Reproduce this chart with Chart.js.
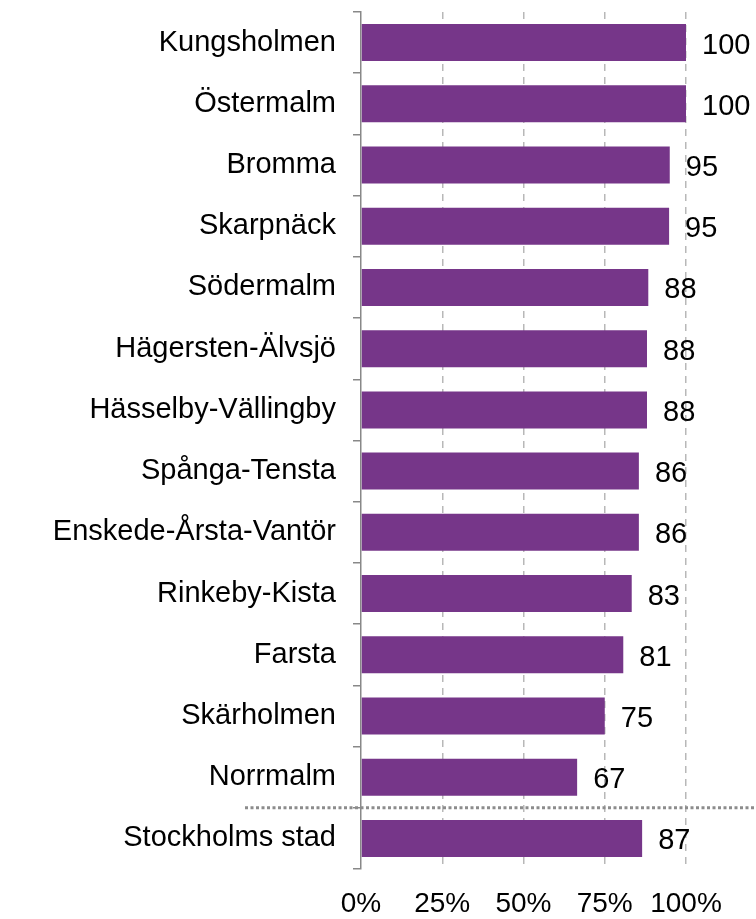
<!DOCTYPE html>
<html>
<head>
<meta charset="utf-8">
<script src="https://cdn.jsdelivr.net/npm/chart.js@4/dist/chart.umd.min.js"></script>
<style>
  html, body { margin:0; padding:0; background:#fff; }
  #wrap { width:756px; height:919px; }
</style>
</head>
<body>
<div id="wrap"><canvas id="districtChart" width="756" height="919"></canvas></div>
<script>
  const districts = ['Kungsholmen','Östermalm','Bromma','Skarpnäck','Södermalm','Hägersten-Älvsjö','Hässelby-Vällingby','Spånga-Tensta','Enskede-Årsta-Vantör','Rinkeby-Kista','Farsta','Skärholmen','Norrmalm','Stockholms stad'];
  const shares = [100,100,95,94.8,88.4,88,88,85.5,85.5,83.3,80.7,75,66.5,86.5];
  const xTicks = [0,25,50,75,100];

  const font = 'Liberation Sans, Arial, sans-serif';

  // value labels to the right of each bar
  const valueLabels = {
    id:'valueLabels',
    afterDatasetsDraw(chart) {
      const ctx = chart.ctx;
      const meta = chart.getDatasetMeta(0);
      ctx.save();
      ctx.font = '29px ' + font;
      ctx.fillStyle = '#000';
      ctx.textAlign = 'left';
      ctx.textBaseline = 'middle';
      meta.data.forEach((bar, i) => {
        ctx.fillText(Math.round(shares[i]), bar.x + 16, bar.y + 3);
      });
      ctx.restore();
    }
  };

  // dotted separator above the city total
  const separator = {
    id:'separator',
    afterDraw(chart) {
      const y = chart.scales.y;
      const n = districts.length;
      const yy = (y.getPixelForValue(n - 2) + y.getPixelForValue(n - 1)) / 2;
      const ctx = chart.ctx;
      ctx.save();
      ctx.strokeStyle = '#8c8c8c';
      ctx.lineWidth = 3;
      ctx.setLineDash([3,2.5]);
      ctx.beginPath();
      ctx.moveTo(245, yy);
      ctx.lineTo(chart.width, yy);
      ctx.stroke();
      ctx.restore();
    }
  };

  new Chart(document.getElementById('districtChart').getContext('2d'), {
    type:'bar',
    data:{
      labels:districts,
      datasets:[{ data:shares, backgroundColor:'#763689', barPercentage:0.605, categoryPercentage:1 }]
    },
    options:{
      indexAxis:'y',
      responsive:false,
      animation:false,
      layout:{ padding:{ top:12, right:70, left:0, bottom:0 } },
      plugins:{ legend:{display:false}, tooltip:{enabled:false} },
      scales:{
        x:{
          min:0, max:100,
          afterBuildTicks: s => { s.ticks = xTicks.map(v => ({value:v})); },
          border:{ display:false, dash:[7,6] },
          grid:{ drawTicks:false, lineWidth:1.5, color: c => c.tick && c.tick.value === 0 ? 'rgba(0,0,0,0)' : '#b8b8b8' },
          ticks:{ color:'#000', padding:18, font:{ family:font, size:28 }, callback: v => v + '%' },
          afterFit: s => { s.height = 50; s.paddingLeft = 0; s.paddingRight = 0; }
        },
        y:{
          border:{ color:'#888', width:1.5 },
          grid:{ drawOnChartArea:false, drawTicks:true, tickLength:8, color:'#888', lineWidth:1.5 },
          ticks:{ color:'#000', padding:17, font:{ family:font, size:29 } },
          afterFit: s => { s.width = 361; s.paddingTop = 0; s.paddingBottom = 0; }
        }
      }
    },
    plugins:[valueLabels, separator]
  });
</script>
</body>
</html>
